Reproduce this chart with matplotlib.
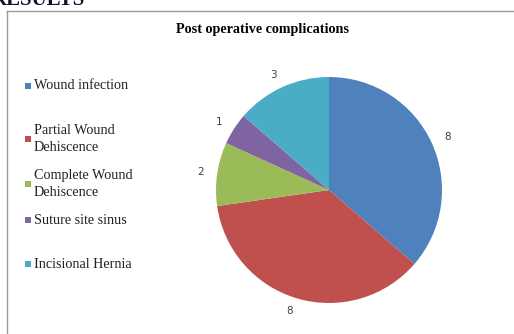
import matplotlib.pyplot as plt
from matplotlib.patches import Rectangle
from matplotlib.lines import Line2D

# data
categories = ["Wound infection", "Partial Wound\nDehiscence", "Complete Wound\nDehiscence",
              "Suture site sinus", "Incisional Hernia"]
counts = [8, 8, 2, 1, 3]
colors = ["#4F81BD", "#C0504D", "#9BBB59", "#8064A2", "#4BACC6"]

W, H = 514, 334
fig = plt.figure(figsize=(W / 100, H / 100), dpi=100)

# chart frame (only left and top edges fall inside the crop)
fig.add_artist(Line2D([7 / W, 7 / W], [0, 1 - 11 / H], color="#999999", lw=1.0))
fig.add_artist(Line2D([7 / W, 1], [1 - 11 / H, 1 - 11 / H], color="#999999", lw=1.0))

# heading cut off at top of page
fig.text(-8 / W, 1 - 5 / H, "RESULTS", fontsize=15, fontweight="bold",
         family="Liberation Serif", va="baseline", ha="left", color="#10122a")

fig.text(262 / W, 1 - 30 / H, "Post operative complications", fontsize=10.2,
         fontweight="bold", family="Liberation Serif", ha="center", va="center")

# pie
cx, cy, r = 329, 190, 113
ax = fig.add_axes([(cx - r) / W, (H - cy - r) / H, 2 * r / W, 2 * r / H])
wedges, texts = ax.pie(counts, colors=colors, startangle=90, counterclock=False,
                       labels=[str(c) for c in counts], labeldistance=1.12,
                       wedgeprops=dict(linewidth=0),
                       textprops=dict(fontsize=7.5, color="#404040", family="DejaVu Sans"))
ax.set_xlim(-1, 1)
ax.set_ylim(-1, 1)
ax.set_aspect("equal")

# legend, laid out by hand like the spreadsheet version
leg_y = [86, 139, 184, 220, 264]
for lab, col, y in zip(categories, colors, leg_y):
    fig.add_artist(Rectangle((25 / W, 1 - (y + 3) / H), 6 / W, 6 / H,
                             transform=fig.transFigure, color=col, lw=0))
    fig.text(34 / W, 1 - y / H, lab, fontsize=10.2, family="Liberation Serif",
             ha="left", va="center", color="#222222", linespacing=1.4)

fig.savefig("out.png", dpi=100)
